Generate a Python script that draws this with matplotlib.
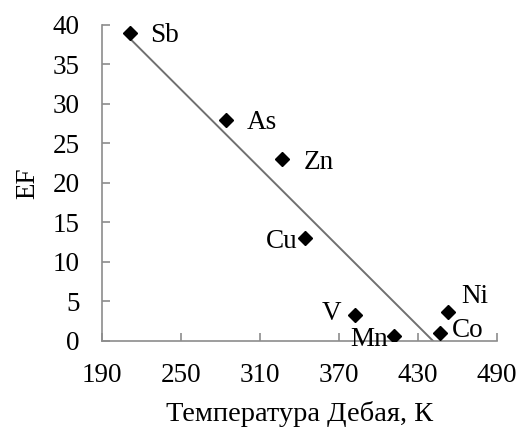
import numpy as np
import matplotlib
matplotlib.use("Agg")
import matplotlib.pyplot as plt

elements = ["Sb", "As", "Zn", "Cu", "V", "Mn", "Co", "Ni"]
debye_temp = [211, 284, 327, 344, 382, 412, 447, 453]
ef_values = [39.0, 28.0, 23.0, 13.0, 3.3, 0.6, 1.0, 3.7]
x_ticks = [190, 250, 310, 370, 430, 490]
y_ticks = [0, 5, 10, 15, 20, 25, 30, 35, 40]

plt.rcParams['font.family'] = ['Liberation Serif', 'DejaVu Serif']

fig = plt.figure(figsize=(5.26, 4.30), dpi=100)
ax = fig.add_axes([0.194, 0.207, 0.751, 0.735])

# trend line (least squares)
slope, intercept = np.polyfit(debye_temp, ef_values, 1)
xl = np.array([min(debye_temp), max(debye_temp)])
ax.plot(xl, slope * xl + intercept, color="#707070", lw=1.4, zorder=2)

ax.plot(debye_temp, ef_values, linestyle="none", marker="D", ms=7,
        color="black", zorder=3)

offsets = {
    "Sb": (15, -2, "left"), "As": (15, -2, "left"), "Zn": (15, -2, "left"),
    "Cu": (-5, -2, "right"), "V": (-10, 1, "right"), "Mn": (-5, -2, "right"),
    "Co": (8, 2, "left"), "Ni": (9, 11, "left"),
}
for name, x, y in zip(elements, debye_temp, ef_values):
    dx, dy, ha = offsets[name]
    ax.annotate(name, (x, y), xytext=(dx, dy), textcoords="offset points",
                ha=ha, va="center", fontsize=19.5, zorder=4)

ax.set_xlim(190, 490)
ax.set_ylim(0, 40)
ax.set_xticks(x_ticks)
ax.set_yticks(y_ticks)
for s in ["top", "right"]:
    ax.spines[s].set_visible(False)
for s in ["left", "bottom"]:
    ax.spines[s].set_color("#8c8c8c")
    ax.spines[s].set_linewidth(1.2)
ax.tick_params(axis="both", direction="in", length=6, width=1.2,
               color="#8c8c8c", labelsize=19.5, pad=16)
ax.set_xlabel("Температура Дебая, К", fontsize=20.5, labelpad=9)
ax.set_ylabel("EF", fontsize=19.5, labelpad=9)

fig.savefig("out.png", dpi=100)
